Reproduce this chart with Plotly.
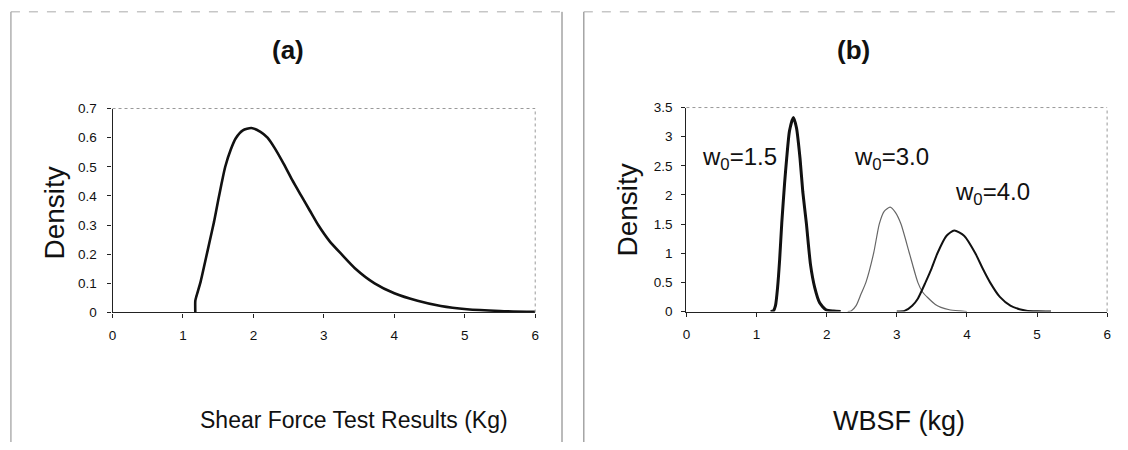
import plotly.graph_objects as go

W, H = 1128, 450

# ---- Data ----
# Panel (a): shear force test results density
a_x = [1.175, 1.175, 1.19, 1.25, 1.32, 1.38, 1.44, 1.50, 1.55, 1.60, 1.68, 1.75, 1.85, 1.97,
       2.10, 2.20, 2.30, 2.43, 2.55, 2.68, 2.80, 2.92, 3.08, 3.25, 3.44, 3.72, 4.00, 4.33, 4.66, 5.03, 5.5, 6.0]
a_y = [0.0, 0.04, 0.055, 0.105, 0.18, 0.245, 0.31, 0.385, 0.445, 0.50, 0.56, 0.598, 0.625, 0.633,
       0.62, 0.60, 0.565, 0.51, 0.455, 0.40, 0.35, 0.30, 0.245, 0.20, 0.152, 0.10, 0.066, 0.04, 0.022, 0.011, 0.005, 0.002]

# Panel (b): WBSF densities for three w0 values
b1_x = [1.20, 1.24, 1.27, 1.30, 1.33, 1.36, 1.40, 1.43, 1.47, 1.525, 1.57, 1.62, 1.66, 1.71, 1.77, 1.83,
        1.90, 1.99, 2.10, 2.20]
b1_y = [0.0, 0.01, 0.10, 0.41, 0.90, 1.52, 2.20, 2.63, 3.10, 3.33, 3.15, 2.63, 2.05, 1.52, 0.80, 0.41,
        0.15, 0.03, 0.008, 0.0]

b2_x = [2.30, 2.35, 2.42, 2.49, 2.56, 2.67, 2.75, 2.82, 2.905, 2.98, 3.06, 3.18, 3.30, 3.37, 3.44, 3.55,
        3.63, 3.75, 3.90, 4.00]
b2_y = [0.0, 0.01, 0.10, 0.30, 0.50, 1.00, 1.50, 1.72, 1.79, 1.70, 1.50, 1.00, 0.50, 0.33, 0.24, 0.12,
        0.07, 0.03, 0.01, 0.0]

b3_x = [3.00, 3.11, 3.22, 3.30, 3.41, 3.50, 3.58, 3.71, 3.82, 3.96, 4.12, 4.22, 4.33, 4.47, 4.62, 4.75,
        4.85, 5.00, 5.20]
b3_y = [0.0, 0.01, 0.10, 0.22, 0.50, 0.75, 1.00, 1.30, 1.39, 1.30, 1.00, 0.75, 0.50, 0.25, 0.10, 0.04,
        0.015, 0.005, 0.0]

b_labels = ["w<sub>0</sub>=1.5", "w<sub>0</sub>=3.0", "w<sub>0</sub>=4.0"]
b_label_x = [0.75, 2.92, 4.37]
b_label_y = [2.62, 2.62, 2.02]

x_ticks = [0, 1, 2, 3, 4, 5, 6]

FONT = "Liberation Sans, Arial, sans-serif"

fig = go.Figure()
fig.add_trace(go.Scatter(x=a_x, y=a_y, mode="lines", line=dict(color="#111", width=2.6, shape="spline", smoothing=0.6),
                         xaxis="x", yaxis="y", showlegend=False))
fig.add_trace(go.Scatter(x=b2_x, y=b2_y, mode="lines", line=dict(color="#666", width=1.2, shape="spline", smoothing=0.6),
                         xaxis="x2", yaxis="y2", showlegend=False))
fig.add_trace(go.Scatter(x=b3_x, y=b3_y, mode="lines", line=dict(color="#111", width=2.0, shape="spline", smoothing=0.6),
                         xaxis="x2", yaxis="y2", showlegend=False))
fig.add_trace(go.Scatter(x=b1_x, y=b1_y, mode="lines", line=dict(color="#111", width=3.0, shape="spline", smoothing=0.6),
                         xaxis="x2", yaxis="y2", showlegend=False))

def px_x(p):
    return p / W

def px_y(p):
    return 1 - p / H

axis_common = dict(showgrid=False, zeroline=False, showline=True, linecolor="#222", linewidth=1.3,
                   ticks="outside", ticklen=4, tickcolor="#222", tickfont=dict(family=FONT, size=13.5, color="#111"))

fig.update_layout(
    width=W, height=H, margin=dict(l=0, r=0, t=0, b=0),
    paper_bgcolor="white", plot_bgcolor="white",
    font=dict(family=FONT, color="#111"),
    xaxis=dict(domain=[px_x(109.3), px_x(535)], range=[0, 6], tickvals=x_ticks, anchor="y",
               ticklabelstandoff=6, **axis_common),
    yaxis=dict(domain=[px_y(316), px_y(105)], range=[0, 0.7], dtick=0.1, anchor="x",
               ticklabelstandoff=8, **axis_common),
    xaxis2=dict(domain=[px_x(687.3), px_x(1111)], range=[0, 6], tickvals=x_ticks, anchor="y2",
                ticklabelstandoff=6, **axis_common),
    yaxis2=dict(domain=[px_y(315), px_y(104)], range=[0, 3.5], dtick=0.5, anchor="x2",
                ticklabelstandoff=6, **axis_common),
)

shapes = []
# plot-area top/right light borders
for xd, yd in [("x domain", "y domain"), ("x2 domain", "y2 domain")]:
    shapes.append(dict(type="line", xref=xd, yref=yd, x0=0, x1=1, y0=1, y1=1, line=dict(color="#999", width=1, dash="dot")))
    shapes.append(dict(type="line", xref=xd, yref=yd, x0=1, x1=1, y0=0, y1=1, line=dict(color="#999", width=1, dash="dot")))
# outer panel frames
shapes.append(dict(type="line", xref="paper", yref="paper", x0=px_x(7), x1=px_x(7), y0=0, y1=px_y(5), line=dict(color="#888", width=1)))
shapes.append(dict(type="line", xref="paper", yref="paper", x0=px_x(7), x1=px_x(562), y0=px_y(5), y1=px_y(5), line=dict(color="#aaa", width=1, dash="dash")))
shapes.append(dict(type="line", xref="paper", yref="paper", x0=px_x(562), x1=px_x(562), y0=0, y1=px_y(5), line=dict(color="#777", width=1)))
shapes.append(dict(type="line", xref="paper", yref="paper", x0=px_x(584), x1=px_x(584), y0=0, y1=px_y(5), line=dict(color="#777", width=1)))
shapes.append(dict(type="line", xref="paper", yref="paper", x0=px_x(584), x1=px_x(1120), y0=px_y(5), y1=px_y(5), line=dict(color="#aaa", width=1, dash="dash")))
fig.update_layout(shapes=shapes)

ann = []
# panel titles
ann.append(dict(text="<b>(a)</b>", x=px_x(286), y=px_y(45), xref="paper", yref="paper", showarrow=False,
                font=dict(family=FONT, size=26, color="#111"), xanchor="center", yanchor="middle"))
ann.append(dict(text="<b>(b)</b>", x=px_x(856), y=px_y(45), xref="paper", yref="paper", showarrow=False,
                font=dict(family=FONT, size=26, color="#111"), xanchor="center", yanchor="middle"))
# axis titles
ann.append(dict(text="Density", x=px_x(51), y=px_y(213), xref="paper", yref="paper", showarrow=False, textangle=-90,
                font=dict(family=FONT, size=28, color="#111"), xanchor="center", yanchor="middle"))
ann.append(dict(text="Density", x=px_x(627), y=px_y(210), xref="paper", yref="paper", showarrow=False, textangle=-90,
                font=dict(family=FONT, size=28, color="#111"), xanchor="center", yanchor="middle"))
ann.append(dict(text="Shear Force Test Results (Kg)", x=px_x(352), y=px_y(427), xref="paper", yref="paper", showarrow=False,
                font=dict(family=FONT, size=23, color="#111"), xanchor="center", yanchor="middle"))
ann.append(dict(text="WBSF (kg)", x=px_x(901), y=px_y(428), xref="paper", yref="paper", showarrow=False,
                font=dict(family=FONT, size=27, color="#111"), xanchor="center", yanchor="middle"))
# curve labels
for t, lx, ly in zip(b_labels, b_label_x, b_label_y):
    ann.append(dict(text=t, x=lx, y=ly, xref="x2", yref="y2", showarrow=False,
                    font=dict(family=FONT, size=24, color="#111"), xanchor="center", yanchor="middle"))
fig.update_layout(annotations=ann)

fig.write_html("out.html", config={"displayModeBar": False},
               post_script="document.body.style.margin='0px';document.body.style.overflow='hidden';")
